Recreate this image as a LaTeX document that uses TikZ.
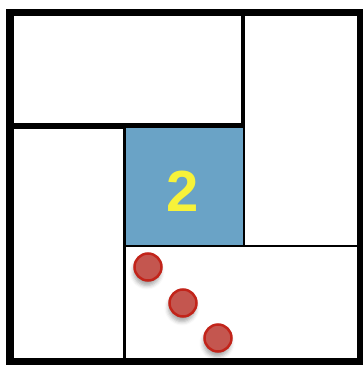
\documentclass[tikz,border=0pt]{standalone}
\usepackage{xcolor}
\usepackage{fontspec}
\setmainfont{Liberation Sans}
\definecolor{TileBlue}{HTML}{6AA3C6}
\definecolor{DigitYellow}{HTML}{F7F23A}
\definecolor{DotRed}{HTML}{C4564F}
\definecolor{DotRim}{HTML}{C2241A}
\usetikzlibrary{shadows.blur}

\begin{document}
\begin{tikzpicture}[x=1pt,y=-1pt,
    dot/.style={circle,draw=DotRim,fill=DotRed,line width=2.5pt,minimum size=27pt,inner sep=0pt,
      blur shadow={shadow xshift=-1pt,shadow yshift=-5pt,shadow blur radius=4pt,shadow opacity=35}}]
    \useasboundingbox (0,0) rectangle (363,367);
    % rooms
    \draw[line width=2pt] (124,246) rectangle (360,361);
    \draw[line width=2.5pt] (244,12) rectangle (360,246);
    \draw[line width=2.5pt,fill=TileBlue] (124,127) rectangle (244,246);
    \draw[line width=3pt] (12,127) rectangle (124,361);
    \draw[line width=4.5pt] (12,12) rectangle (243,125);
    \draw[line width=7pt] (9.7,12) rectangle (360.5,361.7);
    \node[text=DigitYellow,font=\bfseries\fontsize{58}{58}\selectfont] (two) at (183,191) {2};
    % dots
    \node[dot] (d1) at (148,267) {};
    \node[dot] (d2) at (183,303) {};
    \node[dot] (d3) at (218,338) {};
  \end{tikzpicture}
\end{document}
